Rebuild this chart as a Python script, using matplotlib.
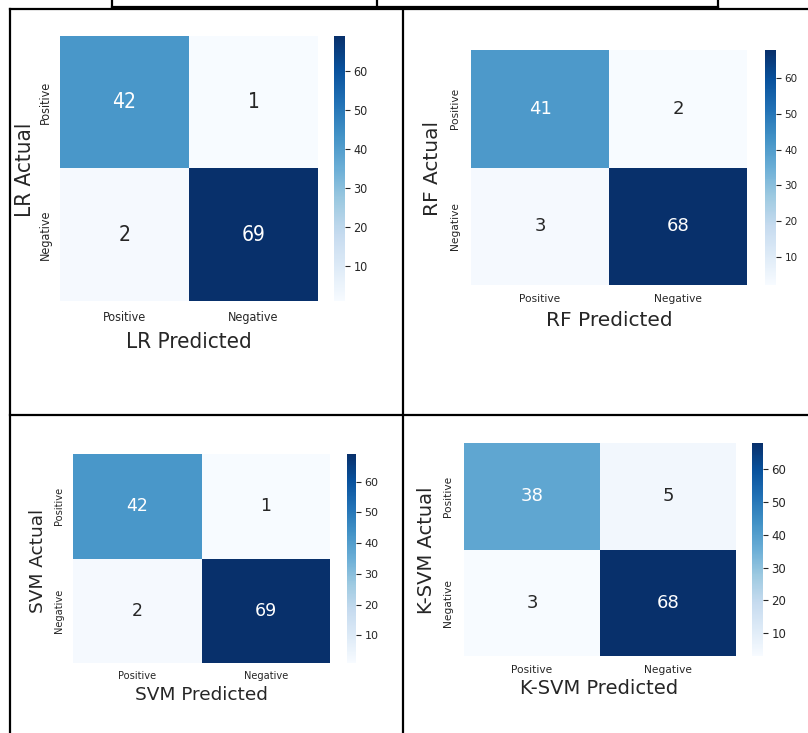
import matplotlib.pyplot as plt
from matplotlib.lines import Line2D
import numpy as np

# Confusion matrices (rows = actual, cols = predicted)
class_labels = ["Positive", "Negative"]
model_names = ["LR", "RF", "SVM", "K-SVM"]
lr_cm = [[42, 1], [2, 69]]
rf_cm = [[41, 2], [3, 68]]
svm_cm = [[42, 1], [2, 69]]
ksvm_cm = [[38, 5], [3, 68]]
matrices = [lr_cm, rf_cm, svm_cm, ksvm_cm]

W, H = 808, 733
TEXT = "#262626"

fig = plt.figure(figsize=(W / 100, H / 100), dpi=100)
fig.patch.set_facecolor("white")


def rect(x0, y0, x1, y1):
    # pixel box (top-left origin) -> figure fraction
    return [x0 / W, 1 - y1 / H, (x1 - x0) / W, (y1 - y0) / H]


def fxy(x, y):
    return x / W, 1 - y / H


def luminance(rgba):
    c = np.array(rgba[:3])
    c = np.where(c <= 0.03928, c / 12.92, ((c + 0.055) / 1.055) ** 2.4)
    return 0.2126 * c[0] + 0.7152 * c[1] + 0.0722 * c[2]


# per panel layout: heatmap box, colorbar box, ylabel centre, xlabel centre,
# font sizes (annot, label, ticks, cbar ticks), tick pads (x, y), condensed
panels = [
    dict(hm=(60, 36, 318, 301), cb=(334, 36, 345, 301), yl=(25, 170), xl=(189, 342),
         fs=(15, 16, 9, 9), pad=(7, 5.5), stretch="condensed"),
    dict(hm=(471, 50, 747, 285), cb=(765, 50, 776, 285), yl=(432, 169), xl=(609, 321),
         fs=(13, 14.5, 7.7, 7.5), pad=(6.3, 8), stretch="normal"),
    dict(hm=(73, 454, 330, 663), cb=(347, 454, 356, 663), yl=(38, 561), xl=(201, 695),
         fs=(12.5, 13.3, 7.1, 8), pad=(5.9, 6.6), stretch="normal"),
    dict(hm=(464, 443, 736, 656), cb=(752, 443, 763, 656), yl=(427, 550), xl=(599, 688),
         fs=(13, 14, 7.7, 8.5), pad=(6.3, 7.7), stretch="normal"),
]

cmap = plt.get_cmap("Blues")

for name, cm, p in zip(model_names, matrices, panels):
    data = np.array(cm)
    vmin, vmax = data.min(), data.max()
    f_ann, f_lab, f_tick, f_cb = p["fs"]
    font = dict(family="DejaVu Sans", stretch=p["stretch"])

    ax = fig.add_axes(rect(*p["hm"]))
    mesh = ax.pcolormesh(np.arange(3), np.arange(3), data, cmap=cmap,
                         vmin=vmin, vmax=vmax)
    ax.set_xlim(0, 2)
    ax.set_ylim(2, 0)
    for s in ax.spines.values():
        s.set_visible(False)

    # cell annotations, white on dark cells
    for i in range(2):
        for j in range(2):
            val = data[i, j]
            col = mesh.cmap(mesh.norm(val))
            tc = "white" if luminance(col) <= 0.408 else TEXT
            ax.text(j + 0.5, i + 0.5, str(val), ha="center", va="center",
                    color=tc, fontsize=f_ann, **font)

    ax.set_xticks([0.5, 1.5])
    ax.set_yticks([0.5, 1.5])
    ax.set_xticklabels(class_labels, fontsize=f_tick, color=TEXT, **font)
    ax.set_yticklabels(class_labels, fontsize=f_tick, color=TEXT, rotation=90,
                       va="center", **font)
    ax.tick_params(axis="x", length=0, pad=p["pad"][0])
    ax.tick_params(axis="y", length=0, pad=p["pad"][1])

    fx, fy = fxy(*p["xl"])
    fig.text(fx, fy, f"{name} Predicted", ha="center", va="center",
             fontsize=f_lab, color=TEXT, **font)
    fx, fy = fxy(*p["yl"])
    fig.text(fx, fy, f"{name} Actual", ha="center", va="center", rotation=90,
             fontsize=f_lab, color=TEXT, **font)

    cax = fig.add_axes(rect(*p["cb"]))
    cbar = fig.colorbar(mesh, cax=cax)
    cbar.outline.set_visible(False)
    cax.tick_params(labelsize=f_cb, colors=TEXT, length=3.5, width=0.8, pad=2.5)
    for t in cax.get_yticklabels():
        t.set_fontstretch(p["stretch"])

# table borders around the panels
border = [
    ((112, 718), (7, 7)),
    ((112, 112), (0, 7)),
    ((377, 377), (0, 7)),
    ((718, 718), (0, 7)),
    ((10, 808), (9, 9)),
    ((10, 10), (9, 733)),
    ((403, 403), (9, 733)),
    ((10, 808), (414.5, 414.5)),
]
for xs, ys in border:
    line = Line2D([x / W for x in xs], [1 - y / H for y in ys],
                  transform=fig.transFigure, color="black", lw=1.6,
                  solid_capstyle="projecting")
    fig.add_artist(line)

fig.savefig("out.png", dpi=100)
